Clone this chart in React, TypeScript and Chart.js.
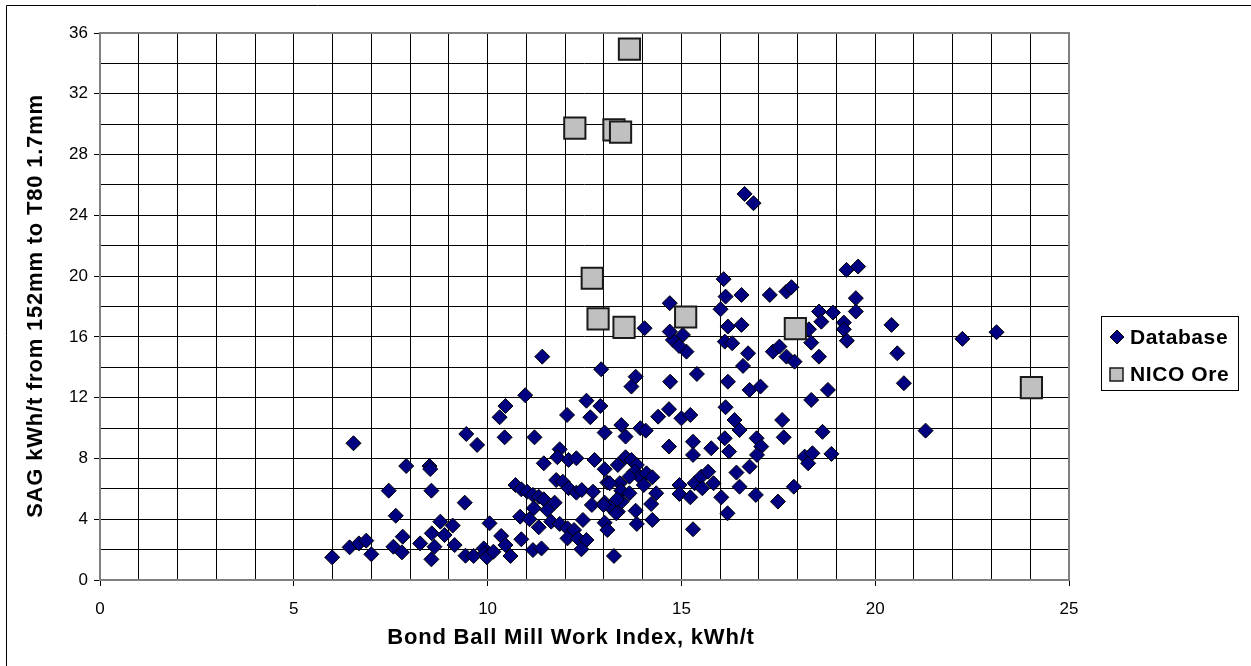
import React, { useEffect, useRef } from 'react';
import { Chart, registerables } from 'chart.js';

Chart.register(...registerables);

const FONT = '"Liberation Sans", Arial, Helvetica, sans-serif';

const X_TITLE = 'Bond Ball Mill Work Index, kWh/t';
const Y_TITLE = 'SAG kWh/t from 152mm to T80 1.7mm';
const SERIES_NAMES = ['Database', 'NICO Ore'];

const X_MIN = 0;
const X_MAX = 25;
const X_STEP = 1;
const X_LABEL_EVERY = 5;
const Y_MIN = 0;
const Y_MAX = 36;
const Y_STEP = 2;
const Y_LABEL_EVERY = 4;

const databaseX = [
  5.99, 6.54, 6.44, 6.68, 6.87, 7.0, 7.45, 7.63, 7.81, 7.57, 7.79, 7.9, 8.26, 8.5, 8.52, 8.55, 8.56, 8.63, 8.55, 8.78,
  8.89, 9.1, 9.15, 9.41, 9.45, 9.73, 9.43, 9.64, 9.9, 9.92, 9.98, 10.15, 10.05, 10.35, 10.46, 10.59, 10.44, 10.31, 10.46, 10.97,
  11.21, 11.41, 10.72, 10.87, 11.02, 11.17, 11.32, 11.45, 11.73, 11.19, 11.54, 10.84, 11.08, 11.32, 11.64, 11.86, 12.06, 12.23, 12.06, 12.33,
  12.55, 12.42, 12.46, 10.87, 11.17, 11.39, 11.45, 11.86, 11.8, 12.09, 12.29, 12.76, 13.02, 13.36, 11.77, 11.94, 12.09, 12.29, 12.43, 12.72,
  12.69, 13.02, 13.17, 13.36, 13.09, 13.02, 13.09, 13.26, 13.02, 12.93, 12.55, 12.65, 12.91, 12.05, 13.82, 13.71, 14.05, 13.45, 13.56, 13.94,
  14.08, 14.4, 14.68, 15.0, 15.23, 14.68, 14.71, 15.4, 13.56, 13.71, 13.85, 13.79, 13.92, 14.1, 14.25, 14.03, 13.66, 13.41, 13.15, 13.45,
  13.66, 14.35, 14.22, 14.25, 13.85, 13.82, 13.32, 12.99, 13.46, 13.34, 14.95, 14.95, 15.23, 15.3, 15.3, 15.77, 15.3, 15.34, 15.51, 15.54,
  15.69, 15.83, 16.03, 16.19, 16.12, 16.23, 16.14, 16.37, 16.5, 16.42, 16.76, 16.5, 16.92, 16.94, 17.06, 16.95, 17.49, 17.9, 17.6, 17.64,
  18.18, 18.27, 18.38, 18.35, 16.2, 16.76, 17.04, 16.59, 16.72, 16.2, 16.12, 16.31, 16.55, 17.36, 17.53, 17.71, 17.92, 14.78, 15.04, 15.13,
  14.94, 14.7, 16.09, 16.14, 16.55, 17.28, 17.71, 17.84, 19.26, 19.56, 19.5, 19.5, 14.7, 16.01, 18.29, 18.35, 18.55, 18.55, 18.61, 18.91,
  19.19, 19.19, 19.27, 18.78, 18.64, 18.87, 16.63, 16.86, 20.42, 23.13, 22.25, 20.57, 20.74, 21.3,
];

const databaseY = [
  1.49, 9.0, 2.15, 2.41, 2.59, 1.69, 5.88, 4.23, 2.85, 2.19, 1.82, 7.5, 2.41, 7.5, 7.3, 5.88, 3.07, 2.19, 1.36, 3.84,
  2.96, 3.58, 2.3, 5.09, 9.61, 8.89, 1.6, 1.58, 2.08, 1.75, 1.49, 1.86, 3.73, 2.9, 2.3, 1.58, 9.39, 10.71, 11.45, 12.16,
  9.39, 14.7, 6.25, 5.97, 5.81, 5.6, 5.48, 5.31, 5.09, 4.72, 4.61, 4.17, 4.0, 3.47, 3.84, 3.69, 3.4, 3.29, 2.74, 2.74,
  2.63, 2.02, 3.95, 2.68, 1.97, 2.08, 7.68, 8.6, 8.08, 7.9, 8.01, 7.9, 7.29, 7.57, 6.58, 6.47, 6.04, 5.75, 5.92, 5.81,
  4.94, 5.09, 4.79, 4.5, 6.41, 3.77, 3.29, 1.58, 9.7, 13.87, 11.8, 10.71, 11.45, 10.86, 13.38, 12.73, 16.57, 10.2, 9.44, 9.99,
  9.83, 10.75, 11.24, 10.64, 10.86, 8.78, 13.05, 13.56, 8.08, 7.9, 7.57, 7.13, 6.8, 7.02, 6.76, 6.25, 6.8, 6.37, 6.37, 5.88,
  5.71, 5.71, 5.0, 3.95, 3.69, 4.56, 4.39, 4.94, 5.16, 5.31, 6.25, 5.66, 5.44, 9.1, 8.23, 8.67, 3.34, 6.37, 6.8, 6.04,
  7.13, 6.37, 5.44, 4.39, 9.33, 8.45, 11.37, 10.53, 9.87, 7.07, 7.46, 6.14, 5.6, 9.33, 8.78, 8.23, 5.16, 6.14, 10.53, 9.39,
  8.12, 7.68, 8.34, 11.85, 13.05, 12.51, 12.73, 14.09, 14.92, 16.68, 15.69, 15.58, 16.79, 15.03, 15.36, 14.7, 14.37, 15.8, 16.13, 15.03,
  15.4, 16.35, 19.8, 18.65, 18.76, 18.76, 18.98, 19.27, 20.41, 20.63, 18.55, 17.67, 18.22, 17.82, 16.5, 15.62, 14.7, 17.67, 17.0, 17.6,
  16.94, 16.5, 15.75, 12.51, 9.75, 8.3, 25.41, 24.8, 16.79, 16.31, 15.87, 14.92, 12.95, 9.83,
];

const nicoX = [13.66, 12.25, 13.26, 13.43, 12.7, 12.85, 13.52, 15.11, 17.94, 24.03];
const nicoY = [34.94, 29.74, 29.63, 29.47, 19.86, 17.18, 16.63, 17.31, 16.55, 12.66];

const DB_FILL = '#000080';
const NICO_FILL = '#c0c0c0';

const decorPlugin = {
  id: 'decor',
  beforeDatasetsDraw(chart: any) {
    const { ctx, chartArea: a } = chart;
    ctx.save();
    ctx.strokeStyle = '#808080';
    ctx.lineWidth = 2;
    ctx.strokeRect(a.left, a.top, a.right - a.left, a.bottom - a.top);
    ctx.restore();
  },
  afterDraw(chart: any) {
    const { ctx } = chart;
    ctx.save();
    // outer chart border
    ctx.strokeStyle = '#000';
    ctx.lineWidth = 1;
    ctx.beginPath();
    ctx.moveTo(6.5, 666);
    ctx.lineTo(6.5, 5.5);
    ctx.lineTo(1251, 5.5);
    ctx.stroke();

    // axis titles
    ctx.fillStyle = '#000';
    ctx.font = `bold 22px ${FONT}`;
    try { (ctx as any).letterSpacing = '0.8px'; } catch (e) {}
    ctx.textAlign = 'center';
    ctx.textBaseline = 'middle';
    ctx.fillText(X_TITLE, 571, 638);
    ctx.save();
    ctx.translate(36, 306);
    ctx.rotate(-Math.PI / 2);
    ctx.fillText(Y_TITLE, 0, 0);
    ctx.restore();

    // legend
    const lx = 1101.5, ly = 316.5, lw = 137, lh = 74;
    ctx.strokeStyle = '#000';
    ctx.lineWidth = 1;
    ctx.fillStyle = '#fff';
    ctx.fillRect(lx, ly, lw, lh);
    ctx.strokeRect(lx, ly, lw, lh);

    // diamond
    const dx = 1117, dy = 337, r = 7;
    ctx.beginPath();
    ctx.moveTo(dx - r, dy);
    ctx.lineTo(dx, dy - r);
    ctx.lineTo(dx + r, dy);
    ctx.lineTo(dx, dy + r);
    ctx.closePath();
    ctx.fillStyle = DB_FILL;
    ctx.fill();
    ctx.strokeStyle = '#000';
    ctx.stroke();

    // square
    ctx.fillStyle = NICO_FILL;
    ctx.fillRect(1110, 368, 13, 13);
    ctx.lineWidth = 1.5;
    ctx.strokeStyle = '#1a1a1a';
    ctx.strokeRect(1110, 368, 13, 13);

    ctx.fillStyle = '#000';
    ctx.font = `bold 21px ${FONT}`;
    try { (ctx as any).letterSpacing = '0.6px'; } catch (e) {}
    ctx.textAlign = 'left';
    ctx.textBaseline = 'middle';
    ctx.fillText(SERIES_NAMES[0], 1130, 338);
    ctx.fillText(SERIES_NAMES[1], 1130, 375);
    ctx.restore();
  },
};

export default function App() {
  const ref = useRef<HTMLCanvasElement>(null);

  useEffect(() => {
    if (!ref.current) return;
    const dbData = databaseX.map((x, i) => ({ x, y: databaseY[i] }));
    const nicoData = nicoX.map((x, i) => ({ x, y: nicoY[i] }));

    const chart = new Chart(ref.current, {
      type: 'scatter',
      data: {
        datasets: [
          {
            label: SERIES_NAMES[0],
            data: dbData,
            pointStyle: 'rectRot',
            pointRadius: 7.5,
            backgroundColor: DB_FILL,
            borderColor: '#000',
            borderWidth: 1,
            order: 2,
          },
          {
            label: SERIES_NAMES[1],
            data: nicoData,
            pointStyle: 'rect',
            pointRadius: 15,
            backgroundColor: NICO_FILL,
            borderColor: '#1a1a1a',
            borderWidth: 2,
            order: 1,
          },
        ],
      },
      options: {
        responsive: false,
        animation: false,
        events: [],
        layout: { padding: { left: 0, top: 33, right: 182, bottom: 0 } },
        plugins: {
          legend: { display: false },
          tooltip: { enabled: false },
        },
        scales: {
          x: {
            type: 'linear',
            min: X_MIN,
            max: X_MAX,
            ticks: {
              stepSize: X_STEP,
              autoSkip: false,
              maxRotation: 0,
              minRotation: 0,
              padding: 13,
              color: '#000',
              font: { size: 17, family: FONT },
              callback: (v: any) => (Number(v) % X_LABEL_EVERY === 0 ? String(v) : ''),
            },
            grid: {
              color: '#000',
              lineWidth: 1,
              tickLength: 6,
              tickColor: (c: any) =>
                c.tick && c.tick.value % X_LABEL_EVERY === 0 ? '#000' : 'rgba(0,0,0,0)',
            },
            border: { display: false },
            afterFit: (s: any) => {
              s.height = 86;
            },
          },
          y: {
            type: 'linear',
            min: Y_MIN,
            max: Y_MAX,
            ticks: {
              stepSize: Y_STEP,
              autoSkip: false,
              padding: 6,
              color: '#000',
              font: { size: 17, family: FONT },
              callback: (v: any) => (Number(v) % Y_LABEL_EVERY === 0 ? String(v) : ''),
            },
            grid: {
              color: '#000',
              lineWidth: 1,
              tickLength: 6,
              tickColor: (c: any) =>
                c.tick && c.tick.value % Y_LABEL_EVERY === 0 ? '#000' : 'rgba(0,0,0,0)',
            },
            border: { display: false },
            afterFit: (s: any) => {
              s.width = 100;
            },
          },
        },
      },
      plugins: [decorPlugin],
    });

    return () => chart.destroy();
  }, []);

  return (
    <div style={{ position: 'fixed', left: 0, top: 0, width: 1251, height: 666, background: '#fff' }}>
      <canvas ref={ref} width={1251} height={666} style={{ display: 'block' }} />
    </div>
  );
}
